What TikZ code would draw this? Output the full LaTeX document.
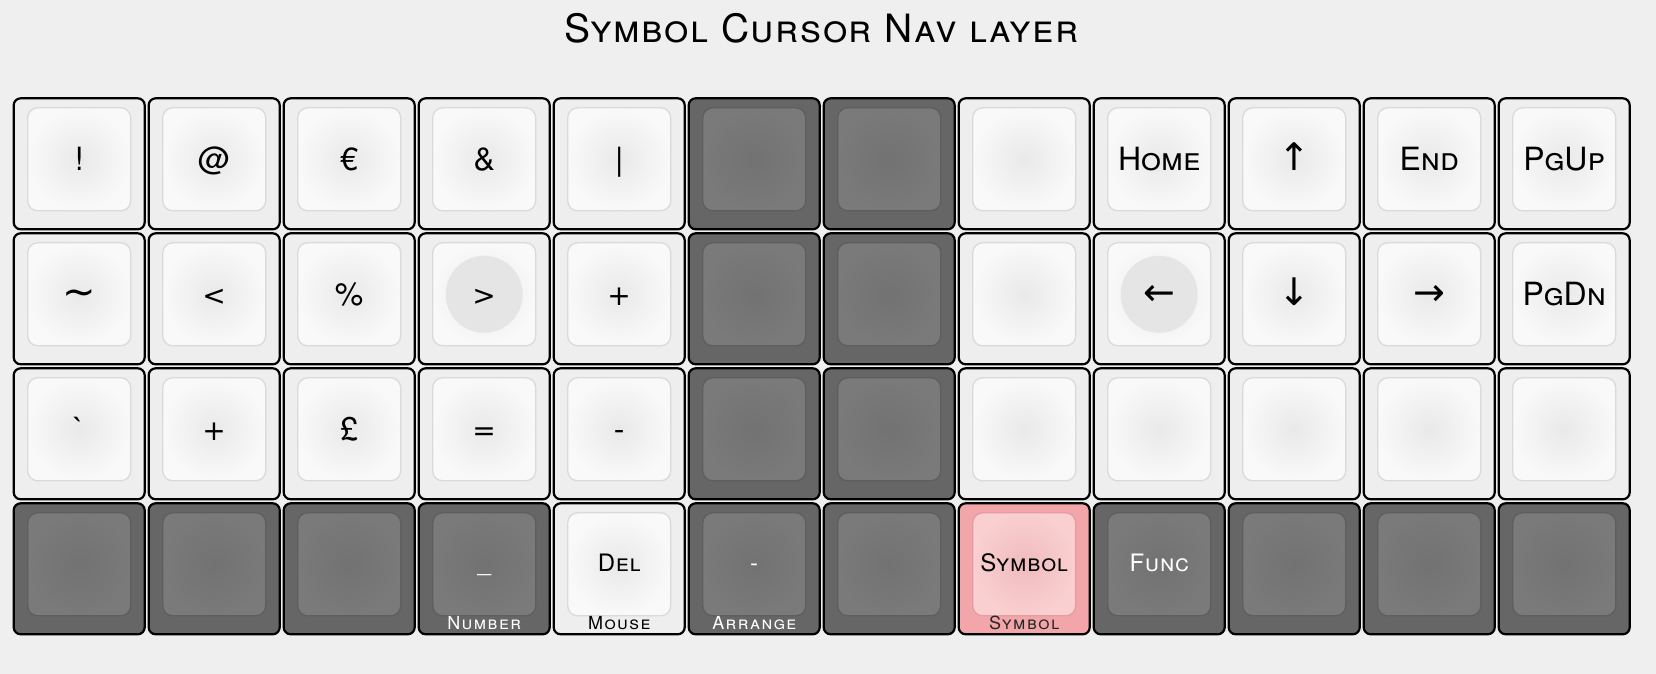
\documentclass[tikz,border=0pt]{standalone}
\usepackage{fontspec}
\setmainfont{TeX Gyre Heros}
\newfontfamily\arrowfont{DejaVu Sans}
\usetikzlibrary{positioning}
\definecolor{sheet}{HTML}{EFEFEF}
\definecolor{baselite}{HTML}{EEEEEE}
\definecolor{basedark}{HTML}{666666}
\definecolor{basepink}{HTML}{F2A6A9}
\definecolor{litecore}{HTML}{E9E9E9}
\definecolor{literim}{HTML}{F9F9F9}
\definecolor{liteedge}{HTML}{DADADA}
\definecolor{darkcore}{HTML}{727272}
\definecolor{darkrim}{HTML}{7A7A7A}
\definecolor{darkedge}{HTML}{5E5E5E}
\definecolor{pinkcore}{HTML}{F0BBBE}
\definecolor{pinkrim}{HTML}{F9CFD0}
\definecolor{pinkedge}{HTML}{E49CA0}
\definecolor{ringgray}{HTML}{E4E5E4}
\newcommand{\arw}[2][38]{{\arrowfont\fontsize{#1}{#1}\selectfont #2}}

\begin{document}
\begin{tikzpicture}[
    x=1pt, y=-1pt,
    keybase/.style={rectangle, draw=black, line width=2.2pt, rounded corners=7pt, minimum width=131pt, minimum height=131pt, inner sep=0pt},
    keytop/.style={rectangle, line width=1.3pt, rounded corners=10pt, minimum width=103pt, minimum height=103pt, inner sep=0pt},
    keylabel/.style={anchor=base, inner sep=0pt, yshift=-11.5pt, font=\fontsize{32}{34}\selectfont\scshape},
    sublabel/.style={anchor=base, inner sep=0pt, font=\fontsize{18}{20}\selectfont\scshape\addfontfeature{LetterSpace=8}},
    title/.style={anchor=base, inner sep=0pt, font=\fontsize{39}{42}\selectfont\scshape\addfontfeature{LetterSpace=4}},
    row0/.style={}, row1/.style={}, row2/.style={},
    row3/.style={yshift=4.8pt, font=\fontsize{24}{26}\selectfont\scshape\addfontfeature{LetterSpace=3}},
    lite-base/.style={fill=baselite},
    ring-base/.style={fill=baselite},
    dark-base/.style={fill=basedark},
    pink-base/.style={fill=basepink},
    lite-top/.style={draw=liteedge, inner color=litecore, outer color=literim},
    ring-top/.style={lite-top, path picture={\fill[ringgray] (path picture bounding box.center) circle (38.5pt);}},
    dark-top/.style={draw=darkedge, inner color=darkcore, outer color=darkrim},
    pink-top/.style={draw=pinkedge, inner color=pinkcore, outer color=pinkrim},
    lite-ink/.style={text=black},
    ring-ink/.style={text=black},
    dark-ink/.style={text=white},
    pink-ink/.style={text=black}
]
    \fill[sheet] (0,0) rectangle (1656,674);

    \node[title] (title) at (821.7,43) {Symbol Cursor Nav layer};

    % keys: row/column/kind/legend
    \foreach \r/\c/\kind/\lbl in {
        0/0/lite/!, 0/1/lite/@, 0/2/lite/€, 0/3/lite/\&, 0/4/lite/\textbar, 0/5/dark/{}, 0/6/dark/{}, 0/7/lite/{}, 0/8/lite/Home, 0/9/lite/\arw{↑}, 0/10/lite/End, 0/11/lite/PgUp,
        1/0/lite/\arw[40]{\textasciitilde}, 1/1/lite/\arw[28]{<}, 1/2/lite/\%, 1/3/ring/\arw[28]{>}, 1/4/lite/\arw[28]{+}, 1/5/dark/{}, 1/6/dark/{}, 1/7/lite/{}, 1/8/ring/\arw{←}, 1/9/lite/\arw{↓}, 1/10/lite/\arw{→}, 1/11/lite/PgDn,
        2/0/lite/\textasciigrave, 2/1/lite/\arw[28]{+}, 2/2/lite/£, 2/3/lite/\arw[28]{=}, 2/4/lite/-, 2/5/dark/{}, 2/6/dark/{}, 2/7/lite/{}, 2/8/lite/{}, 2/9/lite/{}, 2/10/lite/{}, 2/11/lite/{},
        3/0/dark/{}, 3/1/dark/{}, 3/2/dark/{}, 3/3/dark/\_, 3/4/lite/Del, 3/5/dark/-, 3/6/dark/{}, 3/7/pink/Symbol, 3/8/dark/Func, 3/9/dark/{}, 3/10/dark/{}, 3/11/dark/{}}
    {
        \node[keybase, \kind-base] (k\r-\c) at ({79.2+135*\c},{163.8+135*\r}) {};
        \node[keytop, \kind-top] (t\r-\c) at ([yshift=4.5pt]k\r-\c.center) {};
        \node[keylabel, row\r, \kind-ink] (l\r-\c) at (t\r-\c.center) {\lbl};
    }

    % layer names under the thumb keys
    \node[sublabel, text=white] (s3-3) at ([yshift=6.3pt]k3-3.south) {Number};
    \node[sublabel, text=black] (s3-4) at ([yshift=6.3pt]k3-4.south) {Mouse};
    \node[sublabel, text=white] (s3-5) at ([yshift=6.3pt]k3-5.south) {Arrange};
    \node[sublabel, text=black!85] (s3-7) at ([yshift=6.3pt]k3-7.south) {Symbol};
\end{tikzpicture}
\end{document}
